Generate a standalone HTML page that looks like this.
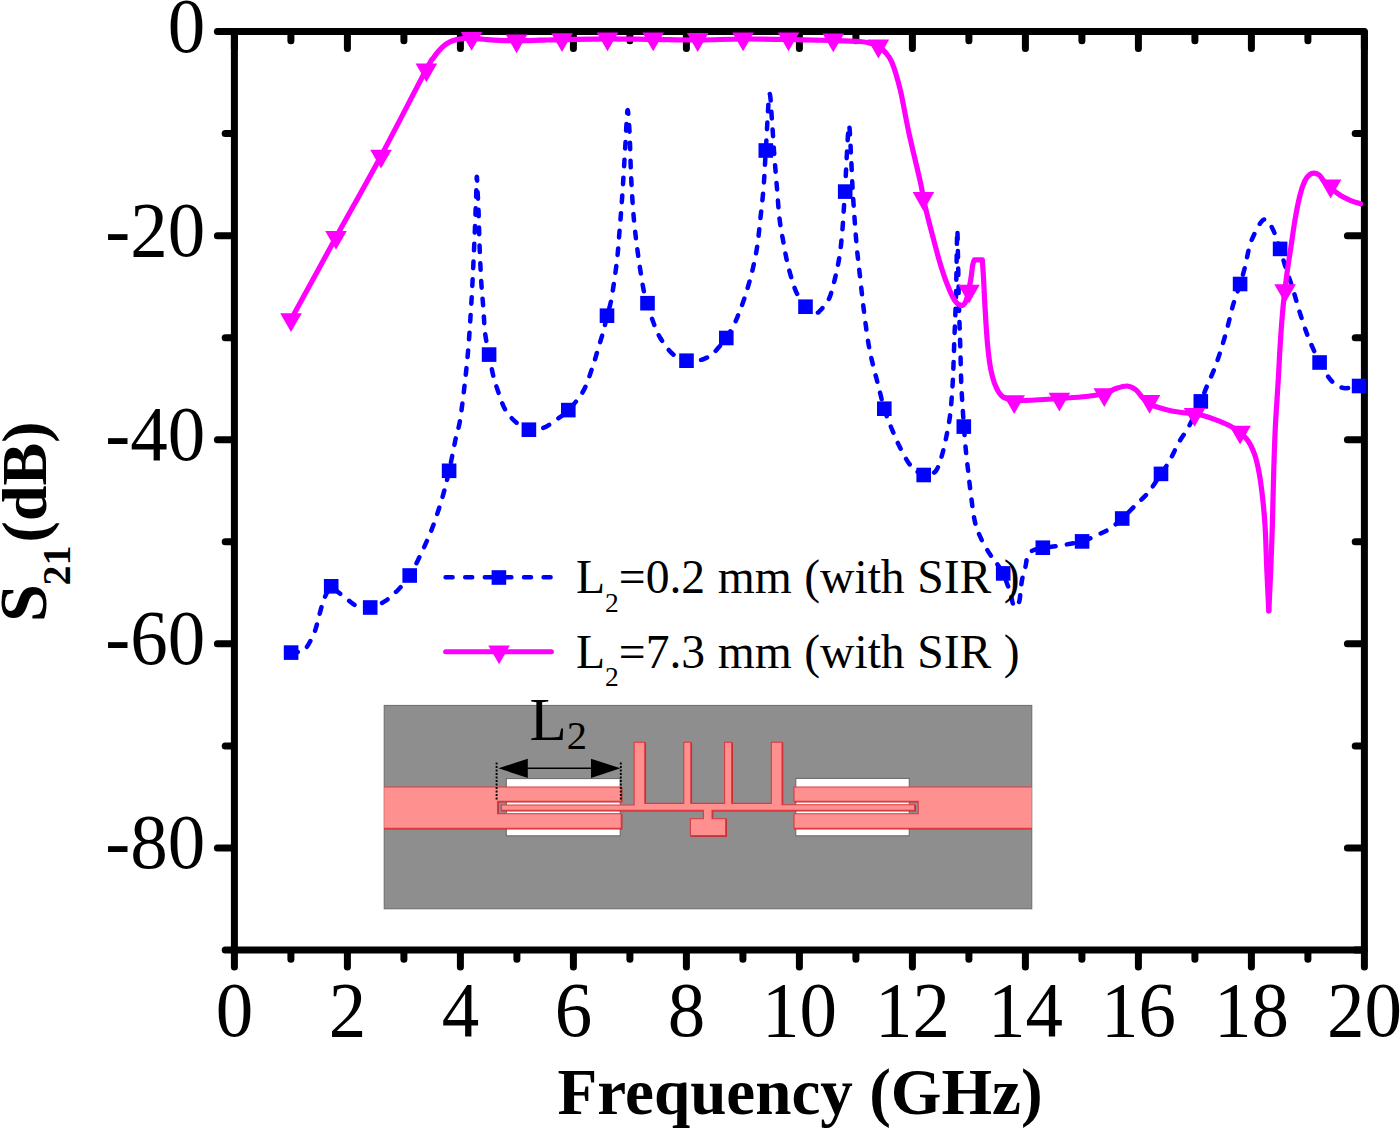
<!DOCTYPE html>
<html><head><meta charset="utf-8"><title>S21 vs Frequency</title>
<style>html,body{margin:0;padding:0;background:#fff}body{width:1400px;height:1128px;overflow:hidden}svg{display:block}text{font-family:"Liberation Serif","DejaVu Serif",serif;fill:#000}</style></head><body>
<svg width="1400" height="1128" viewBox="0 0 1400 1128">
<rect width="1400" height="1128" fill="#fff"/>
<g id="inset">
<defs><clipPath id="insetclip"><rect x="384.2" y="705.4" width="647.6" height="203.4"/></clipPath></defs>
<rect x="384.2" y="705.4" width="647.6" height="203.4" fill="#8e8e8e" stroke="#6c6c6c" stroke-width="1"/>
<rect x="506.3" y="778.6" width="113.9" height="57.2" fill="#fff" stroke="#666" stroke-width="1"/>
<rect x="795.8" y="778.4" width="113.4" height="57.4" fill="#fff" stroke="#666" stroke-width="1"/>
<g clip-path="url(#insetclip)">
<path d="M380 787 H621.2 V801.3 H497.5 V813.7 H621.2 V828.2 H380 Z" transform="translate(0.7 0.7)" fill="#c8242c" stroke="#c8242c" stroke-width="1.1"/>
<path d="M380 787 H621.2 V801.3 H497.5 V813.7 H621.2 V828.2 H380 Z" fill="#ff9090" stroke="#dc3a40" stroke-width="1.1" stroke-linejoin="miter"/>
<path d="M1036 787 H794 V801.2 H918.2 V813.8 H794 V828.3 H1036 Z" transform="translate(0.7 0.7)" fill="#c8242c" stroke="#c8242c" stroke-width="1.1"/>
<path d="M1036 787 H794 V801.2 H918.2 V813.8 H794 V828.3 H1036 Z" fill="#ff9090" stroke="#dc3a40" stroke-width="1.1" stroke-linejoin="miter"/>
<path d="M501.3 805 H634.1 V742.3 H644.8 V803.4 H683.8 V742.3 H690.8 V803.4 H724.6 V742.3 H731.7 V803.4 H771.3 V742.3 H782 V804.8 H914.6 V810.3 H712 V818.7 H725.7 V835.5 H690.4 V818.7 H703.4 V810.3 H501.3 Z" transform="translate(0.7 0.7)" fill="#c8242c" stroke="#c8242c" stroke-width="1.1"/>
<path d="M501.3 805 H634.1 V742.3 H644.8 V803.4 H683.8 V742.3 H690.8 V803.4 H724.6 V742.3 H731.7 V803.4 H771.3 V742.3 H782 V804.8 H914.6 V810.3 H712 V818.7 H725.7 V835.5 H690.4 V818.7 H703.4 V810.3 H501.3 Z" fill="#ff9090" stroke="#dc3a40" stroke-width="1.1" stroke-linejoin="miter"/>
</g>
<g stroke="#000" stroke-width="1.9" stroke-dasharray="2 1.5" fill="none"><path d="M496.6 762.5V801"/><path d="M620.8 762.5V801"/></g>
<path d="M520 768.3H598" stroke="#000" stroke-width="1.6"/>
<path d="M498.4 768.3L527.8 758.7V777.9Z M620.4 768.3L591 758.7V777.9Z" fill="#000"/>
<text x="529.5" y="740" font-size="61">L<tspan font-size="40.5" dy="9.3">2</tspan></text>
</g>
<g stroke="#000" stroke-width="7" stroke-linecap="round" fill="none">
<path d="M234.4 32.6v16.0"/>
<path d="M234.4 951.0v16.0"/>
<path d="M290.9 32.6v8.2"/>
<path d="M290.9 951.0v8.2"/>
<path d="M347.4 32.6v16.0"/>
<path d="M347.4 951.0v16.0"/>
<path d="M403.9 32.6v8.2"/>
<path d="M403.9 951.0v8.2"/>
<path d="M460.4 32.6v16.0"/>
<path d="M460.4 951.0v16.0"/>
<path d="M516.9 32.6v8.2"/>
<path d="M516.9 951.0v8.2"/>
<path d="M573.4 32.6v16.0"/>
<path d="M573.4 951.0v16.0"/>
<path d="M629.9 32.6v8.2"/>
<path d="M629.9 951.0v8.2"/>
<path d="M686.4 32.6v16.0"/>
<path d="M686.4 951.0v16.0"/>
<path d="M742.9 32.6v8.2"/>
<path d="M742.9 951.0v8.2"/>
<path d="M799.4 32.6v16.0"/>
<path d="M799.4 951.0v16.0"/>
<path d="M855.9 32.6v8.2"/>
<path d="M855.9 951.0v8.2"/>
<path d="M912.4 32.6v16.0"/>
<path d="M912.4 951.0v16.0"/>
<path d="M968.9 32.6v8.2"/>
<path d="M968.9 951.0v8.2"/>
<path d="M1025.4 32.6v16.0"/>
<path d="M1025.4 951.0v16.0"/>
<path d="M1081.9 32.6v8.2"/>
<path d="M1081.9 951.0v8.2"/>
<path d="M1138.4 32.6v16.0"/>
<path d="M1138.4 951.0v16.0"/>
<path d="M1194.9 32.6v8.2"/>
<path d="M1194.9 951.0v8.2"/>
<path d="M1251.4 32.6v16.0"/>
<path d="M1251.4 951.0v16.0"/>
<path d="M1307.9 32.6v8.2"/>
<path d="M1307.9 951.0v8.2"/>
<path d="M1364.4 32.6v16.0"/>
<path d="M1364.4 951.0v16.0"/>
<path d="M233.4 31.6h-16.0"/>
<path d="M1363.4 31.6h-16.0"/>
<path d="M233.4 133.6h-8.2"/>
<path d="M1363.4 133.6h-8.2"/>
<path d="M233.4 235.7h-16.0"/>
<path d="M1363.4 235.7h-16.0"/>
<path d="M233.4 337.7h-8.2"/>
<path d="M1363.4 337.7h-8.2"/>
<path d="M233.4 439.8h-16.0"/>
<path d="M1363.4 439.8h-16.0"/>
<path d="M233.4 541.8h-8.2"/>
<path d="M1363.4 541.8h-8.2"/>
<path d="M233.4 643.8h-16.0"/>
<path d="M1363.4 643.8h-16.0"/>
<path d="M233.4 745.9h-8.2"/>
<path d="M1363.4 745.9h-8.2"/>
<path d="M233.4 847.9h-16.0"/>
<path d="M1363.4 847.9h-16.0"/>
<path d="M233.4 950.0h-8.2"/>
<path d="M1363.4 950.0h-8.2"/>
</g>
<rect x="234.4" y="31.6" width="1130.0" height="918.4" fill="none" stroke="#000" stroke-width="7" stroke-linejoin="round"/>
<path d="M291.1 652.6 C292.6 652.4 297.5 652.3 300.0 651.5 C302.5 650.7 303.9 651.0 306.3 647.8 C308.7 644.6 312.4 637.4 314.4 632.5 C316.4 627.6 317.0 623.4 318.4 618.5 C319.8 613.6 321.3 607.3 322.7 603.0 C324.1 598.7 325.6 595.3 327.0 592.5 C328.4 589.7 329.4 586.4 331.2 586.3 C333.0 586.2 335.2 589.8 338.0 592.0 C340.8 594.2 344.4 597.4 347.7 599.8 C351.0 602.2 354.1 605.2 357.8 606.5 C361.6 607.8 365.7 608.4 370.2 607.5 C374.7 606.6 380.0 604.4 384.7 601.4 C389.4 598.4 394.0 594.0 398.2 589.7 C402.4 585.4 406.3 580.6 409.7 575.5 C413.1 570.4 414.7 567.0 418.4 559.3 C422.1 551.5 428.0 539.1 431.9 529.0 C435.8 518.9 439.1 508.4 442.0 498.7 C444.9 489.0 446.8 480.9 449.1 470.8 C451.4 460.7 454.0 446.4 455.8 438.0 C457.6 429.6 458.5 429.6 460.0 420.5 C461.5 411.4 463.4 395.7 464.8 383.3 C466.2 370.9 467.5 358.5 468.5 346.1 C469.5 333.7 470.2 321.3 471.0 308.9 C471.8 296.5 472.4 284.1 473.0 271.7 C473.6 259.3 474.2 246.3 474.7 234.4 C475.2 222.5 475.6 209.6 476.0 200.0 C476.4 190.4 476.5 178.1 476.8 176.8 C477.1 175.5 477.3 186.5 477.6 192.0 C477.9 197.5 478.1 200.0 478.5 209.6 C478.9 219.2 479.2 236.9 479.7 249.3 C480.2 261.7 480.8 274.2 481.4 284.1 C482.0 294.0 482.8 300.6 483.4 308.9 C484.0 317.2 484.2 326.1 485.2 333.7 C486.1 341.3 487.8 347.6 489.1 354.6 C490.5 361.6 491.6 369.0 493.3 375.9 C495.1 382.8 497.5 389.9 499.6 395.7 C501.7 401.5 502.9 406.1 505.8 410.6 C508.7 415.2 513.0 419.8 516.9 423.0 C520.8 426.2 524.5 428.9 528.9 429.7 C533.2 430.5 538.4 429.7 543.0 428.0 C547.6 426.3 552.3 422.6 556.5 419.6 C560.7 416.6 563.8 414.9 568.3 410.1 C572.8 405.3 579.2 398.6 583.4 390.9 C587.6 383.2 591.0 371.3 593.5 364.0 C596.0 356.7 596.9 352.7 598.6 347.0 C600.3 341.3 602.4 335.2 603.8 330.0 C605.1 324.8 605.7 320.9 607.0 315.8 C608.3 310.6 609.8 307.9 611.4 299.0 C613.0 290.1 615.4 273.6 616.8 262.1 C618.2 250.6 618.7 240.7 619.6 230.0 C620.5 219.3 621.1 212.2 622.1 197.9 C623.1 183.6 624.5 158.9 625.4 144.3 C626.3 129.7 626.8 112.1 627.5 110.3 C628.2 108.5 629.0 122.6 629.6 133.6 C630.2 144.6 630.4 162.1 631.1 176.4 C631.8 190.7 632.7 206.1 633.9 219.3 C635.1 232.5 636.6 243.9 638.2 255.7 C639.8 267.5 642.1 282.1 643.6 290.0 C645.1 297.9 646.0 298.2 647.5 303.2 C649.0 308.2 650.4 314.3 652.5 320.0 C654.6 325.7 656.7 331.9 660.0 337.5 C663.3 343.1 668.1 349.9 672.5 353.8 C676.9 357.6 681.5 359.8 686.5 360.8 C691.5 361.7 698.2 360.7 702.5 359.5 C706.8 358.3 710.0 355.5 712.5 353.8 C715.0 352.0 715.2 351.4 717.5 348.8 C719.8 346.1 723.3 342.4 726.2 338.0 C729.2 333.6 733.1 326.2 735.0 322.5 C736.9 318.8 736.4 319.7 737.9 315.7 C739.4 311.7 742.0 305.7 744.3 298.6 C746.6 291.5 749.7 281.5 751.8 272.9 C753.9 264.3 755.7 256.0 757.1 247.1 C758.5 238.2 759.2 229.3 760.3 219.3 C761.4 209.3 762.7 198.6 763.6 187.1 C764.5 175.6 764.8 165.9 765.8 150.5 C766.8 135.1 768.3 99.1 769.4 94.5 C770.5 89.9 771.3 112.8 772.1 122.9 C772.9 133.0 773.5 144.3 774.3 155.0 C775.1 165.7 776.0 176.4 776.9 187.1 C777.8 197.8 778.4 209.7 779.6 219.3 C780.8 229.0 782.5 237.2 783.9 245.0 C785.3 252.8 786.4 259.2 788.2 266.4 C790.0 273.5 792.8 282.9 794.6 287.9 C796.4 292.9 796.9 293.4 798.8 296.5 C800.6 299.6 802.6 304.1 805.5 306.8 C808.4 309.4 813.8 311.9 816.2 312.5 C818.7 313.1 818.8 311.7 820.3 310.4 C821.8 309.1 823.4 306.8 825.0 304.5 C826.6 302.2 828.3 301.0 830.0 296.4 C831.7 291.8 833.7 283.9 835.3 277.1 C836.9 270.3 838.4 263.6 839.6 255.7 C840.8 247.8 841.5 240.7 842.4 230.0 C843.3 219.3 843.8 208.8 844.9 191.5 C846.0 174.2 847.7 132.4 848.7 126.3 C849.7 120.2 850.4 144.9 851.0 155.0 C851.6 165.1 851.9 176.4 852.5 187.1 C853.1 197.8 853.9 209.3 854.6 219.3 C855.3 229.3 856.0 238.2 856.8 247.1 C857.6 256.0 858.5 263.2 859.6 272.9 C860.7 282.5 861.9 294.2 863.2 305.0 C864.5 315.8 866.2 328.8 867.5 337.5 C868.8 346.2 869.6 350.0 871.2 357.5 C872.9 365.0 875.3 374.0 877.5 382.5 C879.7 391.0 882.0 401.2 884.2 408.8 C886.5 416.2 888.8 421.5 891.2 427.5 C893.7 433.5 896.0 439.4 898.8 445.0 C901.5 450.6 904.8 457.1 907.5 461.2 C910.2 465.4 912.3 467.7 915.0 470.0 C917.7 472.3 921.2 474.3 923.8 475.0 C926.2 475.7 927.9 474.9 930.0 474.2 C932.1 473.5 934.2 473.3 936.1 470.6 C938.0 467.9 939.5 463.6 941.1 458.2 C942.8 452.8 944.5 445.8 946.0 438.4 C947.5 430.9 949.2 423.0 950.3 413.5 C951.4 404.0 952.1 392.9 952.8 381.3 C953.4 369.7 953.7 358.6 954.2 344.1 C954.7 329.6 955.5 313.3 956.0 294.4 C956.5 275.5 956.9 237.0 957.2 230.8 C957.5 224.6 957.7 244.5 958.0 257.2 C958.3 269.9 958.6 292.3 959.0 306.8 C959.4 321.3 959.8 331.7 960.2 344.1 C960.6 356.5 960.8 370.6 961.2 381.3 C961.6 392.1 962.2 401.1 962.7 408.6 C963.2 416.1 963.4 419.5 963.9 426.5 C964.4 433.5 965.1 443.0 965.9 450.8 C966.6 458.6 967.6 465.8 968.4 473.1 C969.2 480.4 969.8 486.3 970.9 494.5 C972.0 502.7 973.2 514.6 975.0 522.1 C976.8 529.6 978.9 533.9 981.4 539.3 C983.9 544.7 987.5 550.4 990.0 554.3 C992.5 558.2 994.2 559.7 996.4 562.9 C998.6 566.1 1001.5 570.0 1003.3 573.6 C1005.1 577.2 1006.1 581.1 1007.3 584.3 C1008.5 587.5 1009.7 590.1 1010.5 593.0 C1011.3 595.9 1011.7 599.2 1012.3 601.5 C1012.9 603.8 1013.5 606.1 1014.3 606.8 C1015.1 607.5 1016.1 606.5 1017.0 605.5 C1017.9 604.5 1018.9 603.1 1019.5 600.5 C1020.1 597.9 1020.3 593.6 1020.8 590.0 C1021.2 586.4 1021.4 582.8 1022.2 579.0 C1023.0 575.2 1024.5 570.7 1025.4 567.0 C1026.3 563.3 1026.3 559.4 1027.5 556.7 C1028.7 554.0 1029.9 552.1 1032.5 550.6 C1035.1 549.1 1038.6 548.6 1042.9 547.8 C1047.2 547.0 1052.1 546.8 1058.6 545.7 C1065.1 544.6 1075.7 543.2 1082.1 541.4 C1088.5 539.6 1092.4 537.1 1097.1 535.0 C1101.8 532.9 1105.8 531.4 1110.0 528.6 C1114.2 525.9 1117.9 522.4 1122.2 518.5 C1126.5 514.6 1131.3 509.4 1135.7 505.0 C1140.1 500.6 1144.4 497.3 1148.6 492.1 C1152.8 486.9 1157.4 479.2 1161.0 473.9 C1164.6 468.5 1167.1 465.2 1170.0 460.0 C1172.9 454.8 1175.4 448.6 1178.6 442.9 C1181.8 437.2 1185.6 432.6 1189.3 425.7 C1193.0 418.8 1197.9 407.8 1200.8 401.4 C1203.7 394.9 1204.4 392.2 1206.6 387.0 C1208.8 381.8 1211.6 375.8 1213.8 370.2 C1216.0 364.6 1217.6 360.2 1219.8 353.4 C1222.0 346.6 1224.7 337.5 1226.9 329.5 C1229.1 321.5 1230.7 313.2 1232.9 305.6 C1235.1 298.0 1238.1 290.4 1240.1 284.0 C1242.1 277.6 1243.3 273.7 1244.9 267.3 C1246.5 260.9 1248.1 251.3 1249.7 245.7 C1251.3 240.1 1252.7 237.6 1254.5 233.8 C1256.3 230.0 1258.7 225.4 1260.4 223.0 C1262.1 220.6 1263.2 219.2 1264.8 219.4 C1266.4 219.6 1268.3 221.8 1270.0 224.2 C1271.7 226.6 1273.1 229.7 1274.8 233.8 C1276.5 237.9 1278.3 243.3 1280.1 248.9 C1281.9 254.5 1283.5 260.7 1285.6 267.3 C1287.7 273.9 1290.4 281.2 1292.8 288.8 C1295.2 296.4 1297.5 305.2 1299.9 312.8 C1302.3 320.4 1304.9 328.3 1307.1 334.3 C1309.3 340.3 1311.0 344.0 1313.1 348.7 C1315.2 353.4 1317.0 357.7 1319.6 362.5 C1322.2 367.3 1326.0 373.7 1328.7 377.4 C1331.4 381.1 1333.0 382.8 1335.8 384.6 C1338.6 386.4 1341.5 388.0 1345.4 388.2 C1349.3 388.4 1356.8 386.4 1359.1 386.0" fill="none" stroke="#0000ff" stroke-width="4.5" stroke-linecap="round" stroke-linejoin="round" stroke-dasharray="6.6 11.2"/>
<g fill="#0000ff">
<rect x="283.8" y="645.3" width="14.6" height="14.6"/>
<rect x="323.9" y="579.0" width="14.6" height="14.6"/>
<rect x="362.9" y="600.2" width="14.6" height="14.6"/>
<rect x="402.4" y="568.2" width="14.6" height="14.6"/>
<rect x="441.8" y="463.5" width="14.6" height="14.6"/>
<rect x="481.8" y="347.3" width="14.6" height="14.6"/>
<rect x="521.6" y="422.4" width="14.6" height="14.6"/>
<rect x="561.0" y="402.8" width="14.6" height="14.6"/>
<rect x="599.7" y="308.4" width="14.6" height="14.6"/>
<rect x="640.2" y="295.9" width="14.6" height="14.6"/>
<rect x="679.2" y="353.4" width="14.6" height="14.6"/>
<rect x="719.0" y="330.7" width="14.6" height="14.6"/>
<rect x="758.5" y="143.2" width="14.6" height="14.6"/>
<rect x="798.2" y="299.4" width="14.6" height="14.6"/>
<rect x="837.9" y="184.3" width="14.6" height="14.6"/>
<rect x="877.0" y="401.4" width="14.6" height="14.6"/>
<rect x="916.4" y="467.7" width="14.6" height="14.6"/>
<rect x="956.5" y="419.3" width="14.6" height="14.6"/>
<rect x="995.9" y="566.1" width="14.6" height="14.6"/>
<rect x="1035.5" y="540.4" width="14.6" height="14.6"/>
<rect x="1074.8" y="534.1" width="14.6" height="14.6"/>
<rect x="1114.9" y="511.2" width="14.6" height="14.6"/>
<rect x="1153.7" y="466.6" width="14.6" height="14.6"/>
<rect x="1193.5" y="394.1" width="14.6" height="14.6"/>
<rect x="1232.8" y="276.7" width="14.6" height="14.6"/>
<rect x="1272.8" y="241.6" width="14.6" height="14.6"/>
<rect x="1312.3" y="355.2" width="14.6" height="14.6"/>
<rect x="1351.8" y="378.7" width="14.6" height="14.6"/>
</g>
<path d="M291.0 319.5 C298.5 305.8 321.0 264.6 336.0 237.3 C351.0 210.1 366.0 183.9 381.0 156.0 C396.0 128.1 417.3 86.2 426.0 70.0 C434.7 53.8 431.0 61.5 433.0 58.5 C435.0 55.5 436.1 53.9 438.0 51.7 C439.9 49.5 442.1 47.2 444.2 45.5 C446.3 43.8 448.3 42.7 450.4 41.7 C452.5 40.7 454.5 40.1 456.6 39.6 C458.7 39.1 460.3 38.8 462.8 38.6 C465.3 38.4 467.4 38.1 471.5 38.3 C475.6 38.5 482.9 39.2 487.6 39.6 C492.4 40.0 495.2 40.2 500.0 40.4 C504.8 40.6 509.9 40.7 516.6 40.7 C523.3 40.7 532.4 40.4 540.0 40.2 C547.6 40.0 550.8 39.8 562.0 39.6 C573.2 39.4 592.3 38.8 607.5 38.8 C622.7 38.8 637.9 39.2 653.0 39.4 C668.1 39.6 683.0 40.1 698.0 40.0 C713.0 39.9 727.9 39.1 743.0 39.0 C758.1 38.9 773.5 39.2 788.5 39.5 C803.5 39.8 821.1 40.2 833.0 40.5 C844.9 40.8 853.5 41.0 860.0 41.5 C866.5 42.0 868.9 42.8 872.0 43.5 C875.1 44.2 876.2 44.6 878.4 46.0 C880.6 47.4 882.7 49.2 885.0 52.0 C887.3 54.8 889.4 56.0 892.0 62.5 C894.6 69.0 897.7 79.1 900.5 90.9 C903.3 102.7 905.7 118.3 909.0 133.4 C912.3 148.5 917.7 169.8 920.3 181.7 C922.9 193.6 922.8 196.0 924.8 204.8 C926.8 213.6 929.8 225.1 932.3 234.6 C934.8 244.1 937.2 253.6 939.7 261.9 C942.2 270.2 944.7 277.9 947.2 284.3 C949.7 290.7 952.3 296.9 954.6 300.4 C956.9 303.9 959.1 305.0 960.8 305.4 C962.5 305.8 963.9 304.6 965.0 303.0 C966.1 301.4 966.5 299.9 967.5 296.0 C968.5 292.1 969.9 284.5 970.8 279.3 C971.7 274.1 972.1 268.2 972.7 265.0 C973.3 261.8 974.3 259.8 974.3 259.8 C974.3 259.8 982.3 259.8 982.3 259.8 C982.3 259.8 982.9 268.2 983.4 276.0 C983.9 283.8 984.3 295.4 985.0 306.8 C985.7 318.2 986.5 333.8 987.5 344.1 C988.5 354.5 989.3 361.9 990.7 368.9 C992.1 375.9 993.8 381.8 995.7 386.3 C997.6 390.9 999.6 394.0 1001.9 396.2 C1004.2 398.4 1007.3 398.7 1009.3 399.4 C1011.3 400.1 1011.5 400.3 1014.0 400.5 C1016.5 400.7 1016.6 400.8 1024.1 400.5 C1031.6 400.2 1048.6 399.2 1058.9 398.5 C1069.2 397.8 1078.8 397.3 1086.2 396.5 C1093.7 395.7 1098.6 394.8 1103.6 393.5 C1108.6 392.2 1112.1 389.8 1116.0 388.5 C1119.9 387.2 1123.9 385.8 1127.2 386.0 C1130.5 386.2 1133.1 387.7 1135.8 389.8 C1138.5 391.9 1141.0 396.1 1143.3 398.5 C1145.6 400.9 1147.7 402.8 1149.5 404.0 C1151.3 405.2 1150.0 404.8 1153.9 406.0 C1157.8 407.2 1165.1 409.8 1173.1 411.3 C1181.1 412.8 1193.8 413.4 1201.8 415.2 C1209.8 417.0 1215.4 419.6 1221.0 421.9 C1226.6 424.2 1230.9 426.1 1235.3 429.1 C1239.7 432.1 1244.1 435.6 1247.3 439.8 C1250.5 444.0 1252.5 448.6 1254.5 454.2 C1256.5 459.8 1257.8 465.7 1259.2 473.3 C1260.6 480.9 1261.8 490.5 1262.8 499.7 C1263.8 508.9 1264.5 516.4 1265.2 528.4 C1265.9 540.4 1266.3 557.7 1266.9 571.5 C1267.5 585.3 1268.8 611.0 1268.8 611.0" fill="none" stroke="#ff00ff" stroke-width="5.2" stroke-linecap="round" stroke-linejoin="round"/>
<path d="M1268.8 611.0 C1268.8 611.0 1270.1 586.1 1270.7 571.5 C1271.3 556.9 1271.9 539.6 1272.4 523.6 C1272.9 507.6 1273.1 491.6 1273.6 475.7 C1274.1 459.8 1274.5 444.3 1275.3 427.9 C1276.1 411.5 1277.6 391.8 1278.4 377.4 C1279.2 363.0 1279.6 353.5 1280.4 341.5 C1281.2 329.5 1282.1 316.8 1283.2 305.6 C1284.3 294.4 1285.6 283.7 1286.8 274.5 C1288.0 265.3 1289.0 259.7 1290.4 250.5 C1291.8 241.3 1293.5 228.6 1295.1 219.4 C1296.7 210.2 1298.3 201.9 1299.9 195.5 C1301.5 189.1 1303.1 184.6 1304.7 181.1 C1306.3 177.6 1307.9 176.0 1309.5 174.7 C1311.1 173.4 1312.7 173.1 1314.3 173.2 C1315.9 173.3 1317.5 173.8 1319.1 175.1 C1320.7 176.4 1321.9 178.9 1323.9 181.1 C1325.9 183.3 1328.2 185.9 1331.0 188.3 C1333.8 190.7 1337.4 193.5 1340.6 195.5 C1343.8 197.5 1346.9 198.9 1350.2 200.3 C1353.5 201.7 1358.8 203.2 1360.5 203.8" fill="none" stroke="#ff00ff" stroke-width="5.2" stroke-linecap="round" stroke-linejoin="round"/>
<path d="M280.2 313.2h21.6l-10.8 18.8Z M325.2 231.0h21.6l-10.8 18.8Z M370.2 149.7h21.6l-10.8 18.8Z M415.6 63.5h21.6l-10.8 18.8Z M460.8 31.9h21.6l-10.8 18.8Z M505.8 34.4h21.6l-10.8 18.8Z M551.2 33.3h21.6l-10.8 18.8Z M596.7 32.5h21.6l-10.8 18.8Z M642.4 32.5h21.6l-10.8 18.8Z M686.9 33.1h21.6l-10.8 18.8Z M732.3 32.5h21.6l-10.8 18.8Z M777.7 32.5h21.6l-10.8 18.8Z M822.5 33.5h21.6l-10.8 18.8Z M867.6 39.6h21.6l-10.8 18.8Z M912.6 192.1h21.6l-10.8 18.8Z M958.2 284.7h21.6l-10.8 18.8Z M1003.4 395.2h21.6l-10.8 18.8Z M1048.6 392.7h21.6l-10.8 18.8Z M1093.5 388.2h21.6l-10.8 18.8Z M1138.8 394.9h21.6l-10.8 18.8Z M1183.8 408.0h21.6l-10.8 18.8Z M1229.3 425.7h21.6l-10.8 18.8Z M1274.3 284.2h21.6l-10.8 18.8Z M1319.8 179.6h21.6l-10.8 18.8Z" fill="#ff00ff"/>
<path d="M445.6 577.3H551" fill="none" stroke="#0000ff" stroke-width="4.5" stroke-linecap="round" stroke-dasharray="7 12.6"/>
<rect x="491.6" y="570.2" width="14.6" height="14.6" fill="#0000ff"/>
<path d="M445.6 651.8H551.4" fill="none" stroke="#ff00ff" stroke-width="5" stroke-linecap="round"/>
<path d="M488.3 645.5h21.6l-10.8 18.8Z" fill="#ff00ff"/>
<text x="576" y="593" font-size="47.6" word-spacing="0.6" xml:space="preserve">L<tspan font-size="27.5" dy="18.5">2</tspan><tspan dy="-18.5">=0.2 mm (with SIR )</tspan></text>
<text x="576" y="667.5" font-size="47.6" word-spacing="0.6" xml:space="preserve">L<tspan font-size="27.5" dy="18.5">2</tspan><tspan dy="-18.5">=7.3 mm (with SIR )</tspan></text>
<g font-size="75" text-anchor="middle">
<text transform="translate(234.4 1035.5) scale(1 1.045)">0</text>
<text transform="translate(347.4 1035.5) scale(1 1.045)">2</text>
<text transform="translate(460.4 1035.5) scale(1 1.045)">4</text>
<text transform="translate(573.4 1035.5) scale(1 1.045)">6</text>
<text transform="translate(686.4 1035.5) scale(1 1.045)">8</text>
<text transform="translate(799.4 1035.5) scale(1 1.045)">10</text>
<text transform="translate(912.4 1035.5) scale(1 1.045)">12</text>
<text transform="translate(1025.4 1035.5) scale(1 1.045)">14</text>
<text transform="translate(1138.4 1035.5) scale(1 1.045)">16</text>
<text transform="translate(1251.4 1035.5) scale(1 1.045)">18</text>
<text transform="translate(1364.4 1035.5) scale(1 1.045)">20</text>
</g>
<g font-size="75" text-anchor="end">
<text transform="translate(205.2 52.0) scale(1 1.045)">0</text>
<text transform="translate(205.2 256.1) scale(1 1.045)">-20</text>
<text transform="translate(205.2 460.2) scale(1 1.045)">-40</text>
<text transform="translate(205.2 664.2) scale(1 1.045)">-60</text>
<text transform="translate(205.2 868.3) scale(1 1.045)">-80</text>
</g>
<text x="557.6" y="1113.7" font-size="65.1" font-weight="bold">Frequency (GHz)</text>
<text transform="translate(45.6 622) rotate(-90)" font-size="64" font-weight="bold"><tspan font-size="68">S</tspan><tspan font-size="40" dy="24.8" dx="-1.2">21</tspan><tspan dy="-24.8" dx="3">(dB)</tspan></text>
</svg></body></html>
